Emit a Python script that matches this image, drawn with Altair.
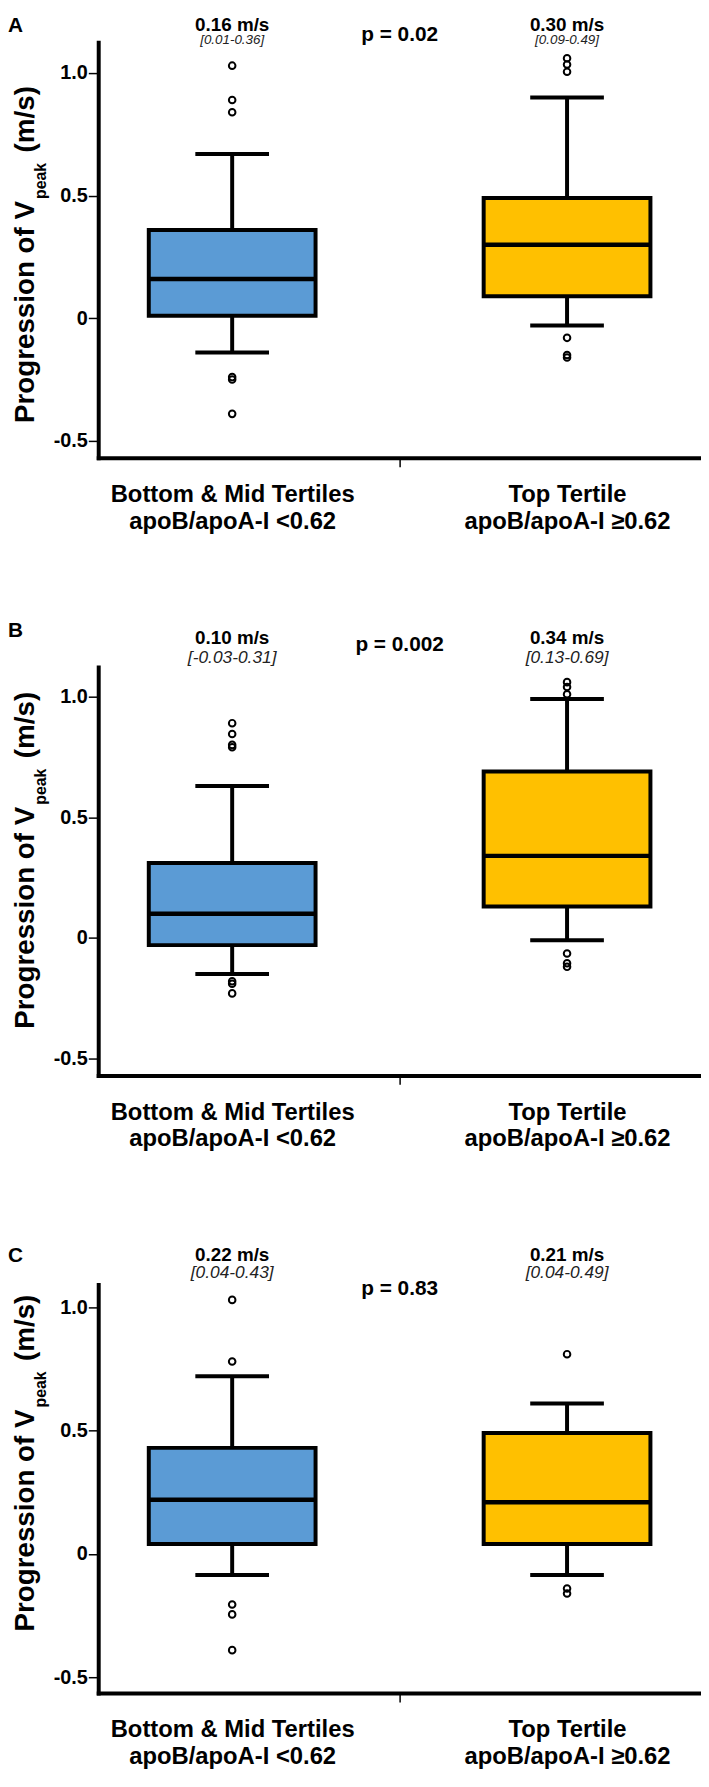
import altair as alt
import pandas as pd

FONT = "Liberation Sans"

# ---------------- data ----------------
CAT_LINE1 = ["Bottom & Mid Tertiles", "Top Tertile"]
CAT_LINE2 = ["apoB/apoA-I <0.62", "apoB/apoA-I \u22650.62"]
GROUP_POS = [1, 2]
BOX_COLORS = ["#5B9BD5", "#FFC000"]

Y_TICKS = [-0.5, 0, 0.5, 1.0]
Y_TICK_LABELS = ["-0.5", "0", "0.5", "1.0"]

# Panel A
A_Q1 = [0.01, 0.09]
A_MEDIAN = [0.16, 0.30]
A_Q3 = [0.36, 0.49]
A_WHISK_LO = [-0.14, -0.03]
A_WHISK_HI = [0.67, 0.90]
A_OUT_G1 = [1.03, 0.89, 0.84, -0.24, -0.25, -0.39]
A_OUT_G2 = [1.06, 1.035, 1.005, -0.08, -0.15, -0.16]
A_MED_LABEL = ["0.16 m/s", "0.30 m/s"]
A_IQR_LABEL = ["[0.01-0.36]", "[0.09-0.49]"]
A_P_LABEL = "p = 0.02"

# Panel B
B_Q1 = [-0.03, 0.13]
B_MEDIAN = [0.10, 0.34]
B_Q3 = [0.31, 0.69]
B_WHISK_LO = [-0.15, -0.01]
B_WHISK_HI = [0.63, 0.99]
B_OUT_G1 = [0.89, 0.845, 0.80, 0.79, -0.18, -0.19, -0.23]
B_OUT_G2 = [1.06, 1.04, 1.01, -0.065, -0.105, -0.12]
B_MED_LABEL = ["0.10 m/s", "0.34 m/s"]
B_IQR_LABEL = ["[-0.03-0.31]", "[0.13-0.69]"]
B_P_LABEL = "p = 0.002"

# Panel C
C_Q1 = [0.04, 0.04]
C_MEDIAN = [0.22, 0.21]
C_Q3 = [0.43, 0.49]
C_WHISK_LO = [-0.085, -0.085]
C_WHISK_HI = [0.72, 0.61]
C_OUT_G1 = [1.03, 0.78, -0.205, -0.245, -0.39]
C_OUT_G2 = [0.81, -0.14, -0.16]
C_MED_LABEL = ["0.22 m/s", "0.21 m/s"]
C_IQR_LABEL = ["[0.04-0.43]", "[0.04-0.49]"]
C_P_LABEL = "p = 0.83"

# ---------------- styling ----------------
PLOT_W = 608
BOX_HALF = 0.249
CAP_HALF = 0.11
X_DOMAIN = [0.6, 2.4]

y_label_expr = "".join(
    f"datum.value === {v} ? '{l}' : " for v, l in zip(Y_TICKS, Y_TICK_LABELS)
) + "''"


def js_list(items):
    return "[" + ",".join("'" + s + "'" for s in items) + "]"


x_label_expr = "".join(
    f"datum.value === {p} ? {js_list([a, b])} : "
    for p, a, b in zip(GROUP_POS, CAT_LINE1, CAT_LINE2)
) + "''"
MID = sum(GROUP_POS) / len(GROUP_POS)

x_axis = alt.Axis(
    values=GROUP_POS[:1] + [MID] + GROUP_POS[1:],
    labelExpr=x_label_expr,
    title=None, grid=False,
    domainColor="black", domainWidth=4, domainCap="square",
    tickColor="black", tickWidth=1.5, tickSize=9,
    tickOpacity={"condition": {"test": f"datum.value === {MID}", "value": 1}, "value": 0},
    labelFont=FONT, labelFontSize=24, labelFontWeight="bold", labelColor="black",
    labelLineHeight=27, labelPadding=16, labelFlush=False, labelOverlap=False,
    labelLimit=500,
)

y_axis = alt.Axis(
    values=Y_TICKS, labelExpr=y_label_expr, title=None, grid=False,
    domainColor="black", domainWidth=4, domainCap="square",
    tickColor="black", tickWidth=1.5, tickSize=10,
    labelFont=FONT, labelFontSize=20, labelFontWeight="bold", labelColor="black",
    labelPadding=1,
)


def make_panel(letter, q1, med, q3, lo, hi, out1, out2, med_lbl, iqr_lbl, p_lbl,
               y_dom, height, t):
    box_df = pd.DataFrame({
        "cat": CAT_LINE1, "pos": GROUP_POS, "q1": q1, "med": med, "q3": q3,
        "lo": lo, "hi": hi, "med_lbl": med_lbl, "iqr_lbl": iqr_lbl,
    })
    out_df = pd.DataFrame({
        "pos": [GROUP_POS[0]] * len(out1) + [GROUP_POS[1]] * len(out2),
        "val": out1 + out2,
    })
    p_df = pd.DataFrame({"pos": [MID], "lbl": [p_lbl]})

    xs = alt.Scale(domain=X_DOMAIN, nice=False, zero=False)
    ys = alt.Scale(domain=y_dom, nice=False, zero=False)

    def X(f, **kw):
        return alt.X(f, scale=xs, title=None, **kw)

    def Y(f, **kw):
        return alt.Y(f, scale=ys, title=None, **kw)

    base = alt.Chart(box_df).transform_calculate(
        bl=f"datum.pos - {BOX_HALF}", br=f"datum.pos + {BOX_HALF}",
        cl=f"datum.pos - {CAP_HALF}", cr=f"datum.pos + {CAP_HALF}",
    )

    whisk_hi = base.mark_rule(color="black", strokeWidth=4).encode(
        x=X("pos:Q", axis=x_axis), y=Y("q3:Q", axis=y_axis), y2="hi")
    whisk_lo = base.mark_rule(color="black", strokeWidth=4).encode(
        x=X("pos:Q"), y=Y("lo:Q"), y2="q1")
    cap_hi = base.mark_rule(color="black", strokeWidth=4).encode(
        x=X("cl:Q"), x2="cr", y=Y("hi:Q"))
    cap_lo = base.mark_rule(color="black", strokeWidth=4).encode(
        x=X("cl:Q"), x2="cr", y=Y("lo:Q"))
    box = base.mark_rect(stroke="black", strokeWidth=4).encode(
        x=X("bl:Q"), x2="br", y=Y("q1:Q"), y2="q3",
        color=alt.Color("cat:N", scale=alt.Scale(domain=CAT_LINE1, range=BOX_COLORS),
                        legend=None))
    median = base.mark_rule(color="black", strokeWidth=4.5).encode(
        x=X("bl:Q"), x2="br", y=Y("med:Q"))
    outl = alt.Chart(out_df).mark_point(
        shape="circle", filled=False, color="black", strokeWidth=2, size=44, opacity=1
    ).encode(x=X("pos:Q"), y=Y("val:Q"))

    med_txt = base.mark_text(font=FONT, fontSize=19, fontWeight="bold",
                             baseline="alphabetic", color="black").encode(
        x=X("pos:Q"), y=alt.value(t["med_y"]), text="med_lbl:N")
    iqr_txt = base.mark_text(font=FONT, fontSize=t["iqr_size"], fontStyle="italic",
                             baseline="alphabetic", color="#222222").encode(
        x=X("pos:Q"), y=alt.value(t["iqr_y"]), text="iqr_lbl:N")
    p_txt = alt.Chart(p_df).mark_text(font=FONT, fontSize=21, fontWeight="bold",
                                      baseline="alphabetic", color="black").encode(
        x=X("pos:Q"), y=alt.value(t["p_y"]), text="lbl:N")

    J = t["title_j"]
    title_main = alt.Chart(pd.DataFrame({"s": ["Progression of V"]})).mark_text(
        font=FONT, fontSize=28, fontWeight="bold", angle=270, align="right",
        baseline="alphabetic", color="black").encode(
        x=alt.value(-65), y=alt.value(J), text="s:N")
    title_sub = alt.Chart(pd.DataFrame({"s": ["peak"]})).mark_text(
        font=FONT, fontSize=16, fontWeight="bold", angle=270, align="left",
        baseline="alphabetic", color="black").encode(
        x=alt.value(-53), y=alt.value(J - 2), text="s:N")
    title_unit = alt.Chart(pd.DataFrame({"s": ["(m/s)"]})).mark_text(
        font=FONT, fontSize=28, fontWeight="bold", angle=270, align="left",
        baseline="alphabetic", color="black").encode(
        x=alt.value(-65), y=alt.value(J - 49), text="s:N")
    letter_txt = alt.Chart(pd.DataFrame({"s": [letter]})).mark_text(
        font=FONT, fontSize=21, fontWeight="bold", align="left",
        baseline="alphabetic", color="black").encode(
        x=alt.value(-91), y=alt.value(t["letter_y"]), text="s:N")

    return alt.layer(
        whisk_hi, whisk_lo, box, median, cap_hi, cap_lo, outl,
        med_txt, iqr_txt, p_txt, title_main, title_sub, title_unit, letter_txt,
    ).properties(width=PLOT_W, height=height)


pA = make_panel("A", A_Q1, A_MEDIAN, A_Q3, A_WHISK_LO, A_WHISK_HI, A_OUT_G1, A_OUT_G2,
                A_MED_LABEL, A_IQR_LABEL, A_P_LABEL, [-0.569, 1.125], 419,
                dict(letter_y=-10, med_y=-11.5, iqr_y=1.5, p_y=-1, iqr_size=13.5, title_j=160))
pB = make_panel("B", B_Q1, B_MEDIAN, B_Q3, B_WHISK_LO, B_WHISK_HI, B_OUT_G1, B_OUT_G2,
                B_MED_LABEL, B_IQR_LABEL, B_P_LABEL, [-0.570, 1.123], 412,
                dict(letter_y=-30, med_y=-23, iqr_y=-4, p_y=-16, iqr_size=17.5, title_j=141))
pC = make_panel("C", C_Q1, C_MEDIAN, C_Q3, C_WHISK_LO, C_WHISK_HI, C_OUT_G1, C_OUT_G2,
                C_MED_LABEL, C_IQR_LABEL, C_P_LABEL, [-0.564, 1.092], 412,
                dict(letter_y=-23, med_y=-24, iqr_y=-7, p_y=10, iqr_size=17.5, title_j=126))

chart = alt.vconcat(pA, pB, pC, spacing=211, bounds="flush").properties(
    padding=0
).configure_view(stroke=None)

chart.save("out.html", embed_options={"renderer": "svg", "actions": False})
